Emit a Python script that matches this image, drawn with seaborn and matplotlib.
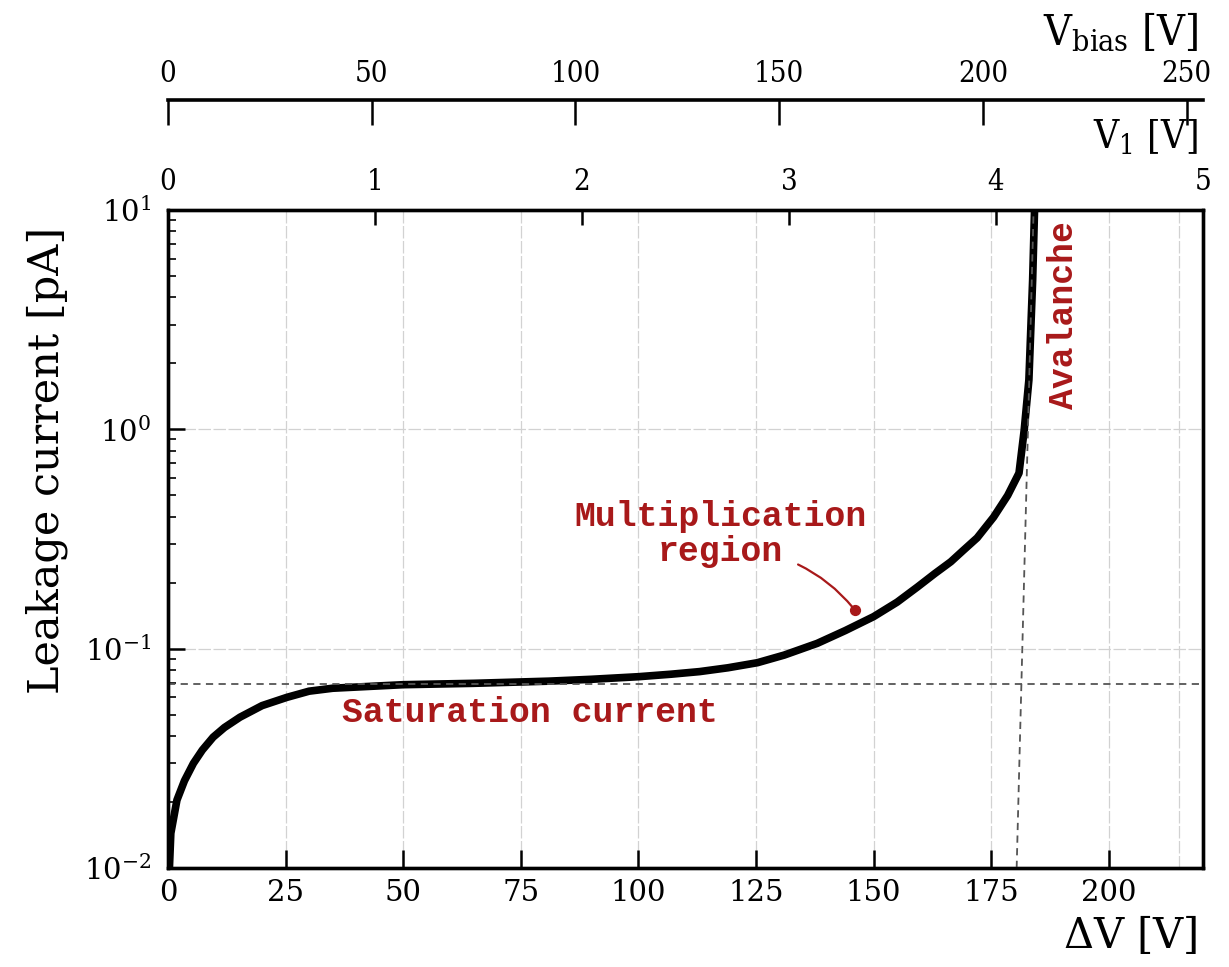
import numpy as np
import matplotlib
matplotlib.use('Agg')
import matplotlib.pyplot as plt
import seaborn as sns

# Leakage current vs. voltage across the junction
delta_v = [0.3, 0.6, 1.9, 3.5, 5.4, 7.3, 9.6, 12, 15.3, 20, 25.3, 30, 35, 50, 65,
           81, 90, 100, 107, 113, 119, 125.3, 131, 138, 144, 150, 155, 159.3, 163,
           166.4, 169, 172, 175.5, 178.5, 180.9, 182, 183, 183.8, 184.3]
leak_pa = [0.01, 0.0144, 0.0204, 0.025, 0.030, 0.0345, 0.0395, 0.0437, 0.0487, 0.055,
           0.060, 0.064, 0.066, 0.0685, 0.0695, 0.0711, 0.0725, 0.0745, 0.0765, 0.0786,
           0.0818, 0.0863, 0.0935, 0.1057, 0.121, 0.140, 0.163, 0.191, 0.22, 0.249,
           0.28, 0.32, 0.398, 0.50, 0.632, 0.99, 1.68, 4.8, 12]

sat_level = 0.069                 # saturation current [pA]
breakdown_dv = [180.4, 184.0]     # dashed breakdown guide
breakdown_i = [0.01, 10]
mult_point = (146, 0.150)         # marked point in the multiplication region

dv_ticks = [0, 25, 50, 75, 100, 125, 150, 175, 200]
extra_grid = [215]
v1_ticks = [0, 1, 2, 3, 4, 5]
vbias_ticks = [0, 50, 100, 150, 200, 250]

red = '#a8191a'

sns.set_style('ticks')
plt.rcParams['font.family'] = ['DejaVu Serif']
plt.rcParams['mathtext.fontset'] = 'dejavuserif'
plt.rcParams.update({'text.color': 'black', 'axes.edgecolor': 'black',
                     'axes.labelcolor': 'black', 'xtick.color': 'black',
                     'ytick.color': 'black'})

fig = plt.figure(figsize=(12.29, 9.67), dpi=100)
ax = fig.add_axes([0.1367, 0.1024, 0.8421, 0.6804])
ax.set_yscale('log')

sns.lineplot(x=delta_v, y=leak_pa, ax=ax, color='black', lw=5.5, estimator=None, zorder=3,
             solid_joinstyle='round', solid_capstyle='round')

# guides
ax.axhline(sat_level, color='#555555', lw=1.3, ls=(0, (4, 3)), zorder=4)
sns.lineplot(x=breakdown_dv, y=breakdown_i, ax=ax, color='#555555', lw=1.3,
             estimator=None, zorder=4)
ax.lines[-1].set_linestyle((0, (4, 3)))

ax.set_xlim(0, 220)
ax.set_ylim(1e-2, 1e1)
ax.set_xticks(dv_ticks)
ax.grid(True, which='major', color='#d2d2d2', lw=0.9, ls=(0, (10, 2)))
for g in extra_grid:
    ax.axvline(g, color='#d2d2d2', lw=0.9, ls=(0, (10, 2)), zorder=0)
ax.set_axisbelow(True)

for s in ax.spines.values():
    s.set_linewidth(2.4)
ax.tick_params(axis='x', which='major', direction='in', length=13, width=1.8,
               top=False, bottom=True, labelsize=21, pad=8)
ax.tick_params(axis='x', which='minor', bottom=False, top=False)
ax.tick_params(axis='y', which='major', direction='in', length=12, width=1.8,
               left=True, right=False, labelsize=21, pad=12)
ax.tick_params(axis='y', which='minor', direction='in', length=6, width=1.2,
               left=True, right=False)

ax.set_xlabel(r'$\Delta$V [V]', fontsize=30)
ax.xaxis.set_label_coords(0.995, -0.07)
ax.xaxis.label.set_ha('right')
ax.set_ylabel('Leakage current [pA]', fontsize=31)
ax.yaxis.set_label_coords(-0.097, 0.62)

# annotations
ax.text(77, 0.0514, 'Saturation current', color=red, fontsize=25, family='Liberation Mono',
        weight='bold', ha='center', va='center')
ax.text(117.4, 0.333, 'Multiplication\nregion', color=red, fontsize=25,
        family='Liberation Mono', weight='bold', ha='center', va='center',
        multialignment='center', linespacing=1.1)
ax.annotate('', xy=mult_point, xytext=(133.4, 0.245),
            arrowprops=dict(arrowstyle='-', color=red, lw=1.6,
                            connectionstyle='arc3,rad=-0.12'))
ax.scatter([mult_point[0]], [mult_point[1]], s=50, color=red, zorder=5)
ax.text(190.4, 3.32, 'Avalanche', color=red, fontsize=25, family='Liberation Mono',
        weight='bold', rotation=90, ha='center', va='center')

# V1 axis on the top spine
ax_v1 = ax.twiny()
ax_v1.set_xlim(0, 5)
ax_v1.set_xticks(v1_ticks)
ax_v1.tick_params(axis='x', which='major', direction='in', length=11, width=1.8,
                  labelsize=21, pad=10)
ax_v1.tick_params(axis='x', which='minor', top=False)
for lab in ax_v1.get_xticklabels():
    lab.set_fontstretch('condensed')
for s in ax_v1.spines.values():
    s.set_linewidth(2.4)
ax_v1.text(0.995, 1.141, r'$\mathregular{V_1}$ [V]', transform=ax.transAxes,
           fontsize=28, ha='right', va='top', fontstretch='condensed')

# V_bias axis further up
ax_vb = ax.twiny()
ax_vb.set_xlim(0, 254)
ax_vb.set_xticks(vbias_ticks)
for side in ['bottom', 'left', 'right']:
    ax_vb.spines[side].set_visible(False)
ax_vb.spines['top'].set_position(('outward', 79))
ax_vb.spines['top'].set_linewidth(2.6)
ax_vb.tick_params(axis='x', which='major', direction='in', length=18, width=1.8,
                  labelsize=21, pad=9)
ax_vb.tick_params(axis='x', which='minor', top=False)
for lab in ax_vb.get_xticklabels():
    lab.set_fontstretch('condensed')
ax_vb.text(0.995, 1.303, r'$\mathregular{V_{bias}}$ [V]', transform=ax.transAxes,
           fontsize=31, ha='right', va='top', fontstretch='condensed')

fig.savefig('out.png', dpi=100)
